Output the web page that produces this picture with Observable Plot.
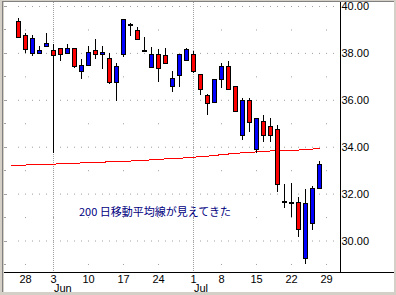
<!DOCTYPE html>
<html>
<head>
<meta charset="utf-8">
<script src="https://cdn.jsdelivr.net/npm/d3@7"></script>
<script src="https://cdn.jsdelivr.net/npm/@observablehq/plot@0.6"></script>
<style>
  html, body { margin: 0; padding: 0; }
  body { width: 396px; height: 295px; background: #d4d0c8; position: relative; overflow: hidden; }
  #frame { position: absolute; left: 2px; top: 1px; width: 392px; height: 291px; box-sizing: border-box;
           background: #fff; border-top: 1px solid #808080; border-left: 1px solid #808080;
           box-shadow: inset 1px 0 0 #d4d0c8; }
  #chart { position: absolute; left: 4px; top: 2px; width: 390px; height: 290px; }
</style>
</head>
<body>
<div id="frame"></div>
<div id="chart"></div>
<script>
// ---- data (trading days, 2002) ----
const days = ["5/23","5/24","5/28","5/29","5/30","5/31","6/3","6/4","6/5","6/6","6/7","6/10","6/11","6/12","6/13","6/14",
  "6/17","6/18","6/19","6/20","6/21","6/24","6/25","6/26","6/27","6/28","7/1","7/2","7/3","7/5","7/8","7/9","7/10",
  "7/11","7/12","7/15","7/16","7/17","7/18","7/19","7/22","7/23","7/24","7/25","7/26","7/29","7/30"];

const candleDates = ["5/24","5/28","5/29","5/30","5/31","6/3","6/4","6/5","6/6","6/7","6/10","6/11","6/12","6/13","6/14",
  "6/17","6/18","6/19","6/20","6/21","6/24","6/25","6/26","6/27","6/28","7/1","7/2","7/3","7/5","7/8","7/9","7/10",
  "7/11","7/12","7/15","7/16","7/17","7/18","7/19","7/22","7/23","7/24","7/25","7/26"];
const open  = [39.36,38.76,37.98,37.98,38.28,38.12,38.20,37.98,38.20,37.21,37.47,38.11,37.94,37.77,36.75,
  37.94,39.22,38.96,38.11,37.39,37.94,37.87,36.58,37.03,37.67,37.95,37.10,36.20,35.88,36.87,37.44,36.58,
  34.49,35.99,33.86,35.08,34.87,34.74,31.65,31.61,31.61,29.24,30.73,32.20];
const high  = [39.50,38.85,38.76,38.29,38.85,38.38,38.21,38.38,38.21,37.73,38.29,38.58,38.29,37.98,37.56,
  39.43,39.26,39.09,38.69,38.25,38.15,38.20,37.23,37.95,38.20,38.09,37.11,36.23,36.88,37.58,37.65,36.60,
  36.06,36.06,35.21,35.35,35.21,34.93,32.40,32.44,31.87,32.20,32.32,33.39];
const low   = [38.64,38.01,37.88,37.97,38.24,33.74,37.67,37.97,37.37,36.89,37.46,37.74,37.31,36.66,35.96,
  37.84,38.73,38.53,38.10,37.38,36.77,37.51,36.35,36.56,37.66,37.16,36.20,35.35,35.87,36.52,36.44,35.51,
  34.29,34.61,33.74,34.21,34.21,32.08,31.37,30.99,30.14,28.98,30.45,32.18];
const close = [38.66,38.15,38.62,38.12,38.38,37.88,37.94,38.20,37.41,37.47,38.03,37.94,38.03,36.75,37.43,
  39.43,39.22,38.58,38.11,37.94,37.34,37.55,36.92,37.94,38.15,37.20,36.42,35.85,36.87,37.44,36.45,35.52,
  35.95,35.04,35.21,34.46,34.47,32.37,31.65,31.61,30.48,31.56,32.23,33.25];

const maDates = ["5/23", ...candleDates];
const ma200 = [33.21,33.22,33.24,33.25,33.26,33.27,33.28,33.29,33.30,33.31,33.33,33.34,33.35,33.36,33.38,33.39,
  33.40,33.41,33.43,33.44,33.46,33.48,33.50,33.51,33.53,33.55,33.57,33.60,33.62,33.65,33.68,33.71,33.74,
  33.76,33.78,33.80,33.82,33.84,33.85,33.86,33.87,33.88,33.90,33.92,33.96];

const weekTickDates = ["5/28","6/3","6/10","6/17","6/24","7/1","7/8","7/15","7/22","7/29"];
const weekTickLabels = ["28","3","10","17","24","1","8","15","22","29"];
const monthTickDates = ["6/3","7/1"];
const monthLabels = ["Jun","Jul"];
const yTicks = [30, 32, 34, 36, 38, 40];
const yMinorTicks = [29, 31, 33, 35, 37, 39];
const annotation = "200 日移動平均線が見えてきた";

// ---- build ----
const pos = d => days.indexOf(d);
const candles = candleDates.map((d, j) => ({k: pos(d), o: open[j], h: high[j], l: low[j], c: close[j]}));
const ma = maDates.map((d, j) => ({k: pos(d), v: ma200[j]}));
const weekK = weekTickDates.map(pos);
const monthK = monthTickDates.map(pos);
const dayCols = d3.range(1, days.length);
const Y0 = 28.657, Y1 = 40.171;
const RIGHT = 47;
const font = "'Liberation Sans', Arial, sans-serif";

const chart = Plot.plot({
  width: 390, height: 290,
  marginTop: 0, marginBottom: 20, marginLeft: 0, marginRight: 0,
  style: {fontFamily: font, fontSize: "11px", background: "transparent", overflow: "visible", color: "black"},
  x: {type: "linear", domain: [-1, 383 / 7], axis: null},
  y: {domain: [Y0, Y1], axis: null},
  marks: [
    // grid dots
    Plot.dot(d3.cross(dayCols, yTicks), {x: d => d[0], y: d => d[1], symbol: "square", r: 0.57, fill: "#a0a0a0"}),
    Plot.dot(d3.cross(weekK, yMinorTicks), {x: d => d[0], y: d => d[1], symbol: "square", r: 0.57, fill: "#a0a0a0"}),
    Plot.ruleY(yTicks, {x1: -1, x2: -1 + 3 / 7, stroke: "#a0a0a0", shapeRendering: "crispEdges"}),
    Plot.ruleY(yMinorTicks, {x1: -1, x2: -1 + 2 / 7, stroke: "#a0a0a0", shapeRendering: "crispEdges"}),
    Plot.ruleX(monthK, {stroke: "#a0a0a0", strokeDasharray: "1,1", shapeRendering: "crispEdges"}),
    // 200-day moving average
    Plot.line(ma, {x: "k", y: "v", stroke: "#ff0000", strokeWidth: 1, shapeRendering: "crispEdges"}),
    // candles
    Plot.ruleX(candles, {x: "k", y1: "l", y2: "h", stroke: "black", shapeRendering: "crispEdges"}),
    Plot.rect(candles.filter(d => d.o !== d.c), {
      x1: d => d.k - 2 / 7, x2: d => d.k + 2 / 7, y1: "o", y2: "c",
      fill: d => d.c > d.o ? "#0000ff" : "#ff0000", stroke: "black", strokeWidth: 1, shapeRendering: "crispEdges"
    }),
    Plot.ruleY(candles.filter(d => d.o === d.c), {
      y: "o", x1: d => d.k - 2.5 / 7, x2: d => d.k + 2.5 / 7, stroke: "black", strokeWidth: 2, shapeRendering: "crispEdges"
    }),
    // frame lines
    Plot.ruleX([RIGHT], {stroke: "black", shapeRendering: "crispEdges"}),
    Plot.ruleY([Y0], {stroke: "black", shapeRendering: "crispEdges"}),
    // y labels (right)
    Plot.text(yTicks, {x: RIGHT, y: d => d, text: d => d.toFixed(2), textAnchor: "start", dx: 1, fill: "black", fontSize: 11}),
    // x labels
    Plot.axisX(weekK, {tickSize: 0, tickPadding: 3, label: null, tickFormat: k => weekTickLabels[weekK.indexOf(k)], fontSize: 11}),
    Plot.axisX(monthK, {tickSize: 0, tickPadding: 12, label: null, textAnchor: "start", dx: 0.5,
      tickFormat: k => monthLabels[monthK.indexOf(k)], fontSize: 11}),
    // annotation
    Plot.text([annotation], {x: 9.64, y: 31.23, text: d => d, textAnchor: "start", fill: "#000080",
      fontFamily: "'Noto Sans CJK JP', sans-serif", fontSize: 11})
  ]
});
document.getElementById("chart").appendChild(chart);
</script>
</body>
</html>
